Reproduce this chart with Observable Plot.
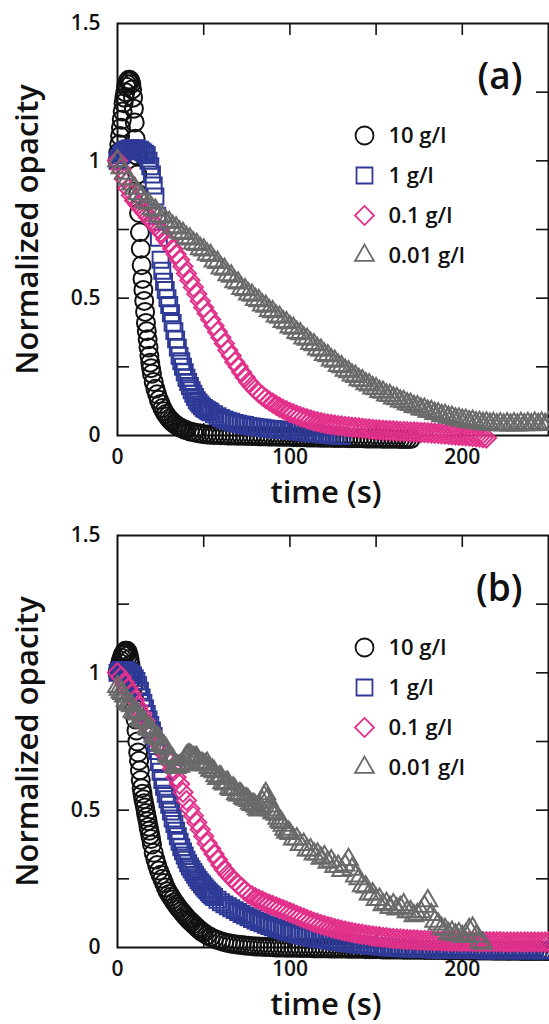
<!DOCTYPE html>
<html><head><meta charset="utf-8">
<script src="https://cdn.jsdelivr.net/npm/d3@7"></script>
<script src="https://cdn.jsdelivr.net/npm/@observablehq/plot@0.6"></script>
<style>
html,body{margin:0;padding:0;background:#fff;}
#chart{width:549px;}
#chart svg{display:block;}
</style></head><body><div id="chart"></div>
<script>
// ---------- labels & ticks ----------
const seriesLabels = ["10 g/l", "1 g/l", "0.1 g/l", "0.01 g/l"];
const panelTags = ["(a)", "(b)"];
const xTitle = "time (s)";
const yTitle = "Normalized opacity";
const xLabelTicks = [0, 100, 200];
const xMinorTicks = [50, 100, 150, 200];
const yLabelTicks = [0, 0.5, 1, 1.5];
const yMinorTicks = [0.25, 0.5, 0.75, 1, 1.25];

// ---------- panel (a) data: [time s, normalized opacity] ----------
const a10 = [[0,1.00],[0.5,1.03],[1,1.06],[1.5,1.09],[2,1.12],[2.5,1.15],[3,1.18],[3.5,1.21],[4,1.23],[4.5,1.25],[5,1.27],[5.5,1.28],[6,1.29],[6.5,1.295],[7,1.295],[7.5,1.29],[8,1.28],[8.5,1.26],[9,1.23],[9.5,1.19],[10,1.14],[10.5,1.08],[11,1.02],[11.5,0.95],[12,0.88],[12.5,0.81],[13,0.74],[13.5,0.68],[14,0.62],[14.5,0.57],[15,0.53],[15.5,0.49],[16,0.45],[16.5,0.41],[17,0.38],[17.5,0.35],[18,0.32],[18.5,0.29],[19,0.265],[19.5,0.245],[20,0.225],[21,0.195],[22,0.17],[23,0.15],[24,0.13],[25,0.115],[26,0.10],[27,0.088],[28,0.078],[29,0.069],[30,0.061],[31,0.054],[32,0.048],[33,0.043],[34,0.038],[35,0.034],[36,0.030],[37,0.027],[38,0.024],[39,0.021],[40,0.019],[42,0.015],[44,0.012],[46,0.009],[48,0.007],[50,0.005],[52,0.004],[54,0.003],[56,0.002],[58,0.002],[60,0.001],[62,0.001],[64,0.0],[66,0.0],[68,0.0],[70,-0.001],[72,-0.001],[74,-0.001],[76,-0.002],[78,-0.002],[80,-0.002],[82,-0.003],[84,-0.003],[86,-0.003],[88,-0.004],[90,-0.004],[92,-0.004],[94,-0.005],[96,-0.005],[98,-0.005],[100,-0.005],[102,-0.006],[104,-0.006],[106,-0.006],[108,-0.006],[110,-0.007],[112,-0.007],[114,-0.007],[116,-0.007],[118,-0.008],[120,-0.008],[122,-0.008],[124,-0.008],[126,-0.009],[128,-0.009],[130,-0.009],[132,-0.009],[134,-0.01],[136,-0.01],[138,-0.01],[140,-0.01],[142,-0.01],[144,-0.011],[146,-0.011],[148,-0.011],[150,-0.011],[152,-0.011],[154,-0.012],[156,-0.012],[158,-0.012],[160,-0.012],[162,-0.012],[164,-0.013],[166,-0.013],[168,-0.013],[170,-0.013]];
const a1 = [[0,1.00],[1,1.01],[2,1.02],[3,1.03],[4,1.035],[5,1.04],[6,1.04],[7,1.045],[8,1.045],[9,1.045],[10,1.045],[11,1.045],[12,1.04],[13,1.04],[14,1.035],[15,1.03],[16,1.025],[17,1.02],[18,1.00],[19,0.98],[20,0.95],[21,0.91],[22,0.87],[23,0.80],[24,0.72],[25,0.64],[26,0.60],[27,0.56],[28,0.53],[29,0.50],[30,0.475],[31,0.445],[32,0.41],[33,0.38],[34,0.35],[35,0.32],[36,0.29],[37,0.27],[38,0.25],[39,0.23],[40,0.21],[41,0.195],[42,0.18],[43,0.165],[44,0.152],[45,0.14],[46,0.128],[47,0.12],[48,0.113],[49,0.106],[50,0.10],[51,0.096],[52,0.092],[53,0.088],[54,0.085],[56,0.077],[58,0.07],[60,0.064],[62,0.058],[64,0.054],[66,0.05],[68,0.046],[70,0.043],[72,0.04],[74,0.038],[76,0.035],[78,0.033],[80,0.031],[82,0.029],[84,0.028],[86,0.026],[88,0.025],[90,0.024],[92,0.022],[94,0.021],[96,0.02],[98,0.019],[100,0.017],[102,0.016],[104,0.015],[106,0.014],[108,0.012],[110,0.011],[112,0.01],[114,0.008],[116,0.007],[118,0.006],[120,0.004],[122,0.003],[124,0.002],[126,0.0],[128,-0.001],[130,-0.002]];
const a01 = [[0,1.00],[2,0.97],[4,0.935],[6,0.90],[8,0.875],[10,0.855],[12,0.84],[14,0.825],[16,0.81],[18,0.795],[20,0.78],[22,0.765],[24,0.75],[26,0.735],[28,0.715],[30,0.70],[32,0.68],[34,0.66],[36,0.64],[38,0.615],[40,0.59],[42,0.565],[44,0.54],[46,0.515],[48,0.49],[50,0.466],[52,0.444],[54,0.422],[56,0.40],[58,0.378],[60,0.357],[62,0.335],[64,0.31],[66,0.29],[68,0.268],[70,0.25],[72,0.23],[74,0.212],[76,0.195],[78,0.18],[80,0.167],[82,0.155],[84,0.145],[86,0.135],[88,0.126],[90,0.118],[92,0.11],[94,0.103],[96,0.096],[98,0.09],[100,0.084],[102,0.079],[104,0.074],[106,0.069],[108,0.065],[110,0.061],[112,0.057],[114,0.053],[116,0.05],[118,0.047],[120,0.044],[122,0.042],[124,0.04],[126,0.038],[128,0.036],[130,0.035],[132,0.033],[134,0.032],[136,0.03],[138,0.029],[140,0.028],[142,0.026],[144,0.025],[146,0.024],[148,0.022],[150,0.021],[152,0.02],[154,0.019],[156,0.018],[158,0.017],[160,0.017],[162,0.016],[164,0.015],[166,0.015],[168,0.014],[170,0.013],[172,0.013],[174,0.012],[176,0.011],[178,0.011],[180,0.01],[182,0.009],[184,0.008],[186,0.007],[188,0.006],[190,0.005],[192,0.004],[194,0.003],[196,0.002],[198,0.001],[200,0.0],[202,-0.001],[204,-0.002],[206,-0.004],[208,-0.005],[210,-0.006],[212,-0.008],[214,-0.009]];
const a001 = [[0,1.00],[2,0.975],[4,0.955],[6,0.935],[8,0.915],[10,0.9],[12,0.88],[14,0.87],[16,0.85],[18,0.845],[20,0.825],[22,0.82],[24,0.80],[26,0.795],[28,0.78],[30,0.775],[32,0.76],[34,0.755],[36,0.74],[38,0.735],[40,0.72],[42,0.715],[44,0.70],[46,0.695],[48,0.68],[50,0.675],[52,0.66],[54,0.655],[56,0.635],[58,0.63],[60,0.61],[62,0.605],[64,0.585],[66,0.58],[68,0.56],[70,0.555],[72,0.535],[74,0.53],[76,0.515],[78,0.51],[80,0.495],[82,0.49],[84,0.475],[86,0.47],[88,0.455],[90,0.45],[92,0.435],[94,0.43],[96,0.415],[98,0.41],[100,0.395],[102,0.39],[104,0.375],[106,0.37],[108,0.355],[110,0.35],[112,0.335],[114,0.33],[116,0.315],[118,0.31],[120,0.295],[122,0.29],[124,0.275],[126,0.27],[128,0.255],[130,0.25],[132,0.237],[134,0.232],[136,0.22],[138,0.215],[140,0.203],[142,0.199],[144,0.188],[146,0.184],[148,0.173],[150,0.17],[152,0.16],[154,0.157],[156,0.147],[158,0.145],[160,0.136],[162,0.134],[164,0.125],[166,0.123],[168,0.115],[170,0.113],[172,0.105],[174,0.104],[176,0.096],[178,0.095],[180,0.088],[182,0.087],[184,0.08],[186,0.079],[188,0.072],[190,0.072],[192,0.066],[194,0.066],[196,0.06],[198,0.06],[200,0.055],[202,0.055],[204,0.05],[206,0.051],[208,0.046],[210,0.047],[212,0.043],[214,0.045],[216,0.041],[218,0.043],[220,0.039],[222,0.042],[224,0.038],[226,0.042],[228,0.038],[230,0.042],[232,0.038],[234,0.043],[236,0.039],[238,0.043],[240,0.039],[242,0.044],[244,0.04],[246,0.044],[248,0.04],[250,0.045]];

// ---------- panel (b) data ----------
const b10 = [[0,1.00],[0.5,1.01],[1,1.02],[1.5,1.035],[2,1.045],[2.5,1.055],[3,1.065],[3.5,1.07],[4,1.075],[4.5,1.08],[5,1.08],[5.5,1.08],[6,1.075],[6.5,1.065],[7,1.05],[7.5,1.03],[8,1.01],[8.5,0.98],[9,0.95],[9.5,0.91],[10,0.87],[10.5,0.83],[11,0.79],[11.5,0.75],[12,0.71],[12.5,0.68],[13,0.645],[13.5,0.61],[14,0.58],[14.5,0.56],[15,0.54],[15.5,0.525],[16,0.51],[16.5,0.49],[17,0.475],[17.5,0.46],[18,0.44],[18.5,0.425],[19,0.41],[19.5,0.395],[20,0.375],[21,0.345],[22,0.32],[23,0.30],[24,0.28],[25,0.265],[26,0.25],[27,0.235],[28,0.218],[29,0.205],[30,0.195],[31,0.185],[32,0.175],[33,0.165],[34,0.157],[35,0.148],[36,0.14],[37,0.132],[38,0.125],[39,0.117],[40,0.11],[41,0.103],[42,0.097],[43,0.091],[44,0.085],[45,0.079],[46,0.073],[47,0.068],[48,0.062],[49,0.057],[50,0.053],[52,0.045],[54,0.038],[56,0.032],[58,0.027],[60,0.023],[62,0.019],[64,0.016],[66,0.014],[68,0.012],[70,0.01],[72,0.009],[74,0.007],[76,0.006],[78,0.005],[80,0.004],[82,0.004],[84,0.003],[86,0.002],[88,0.002],[90,0.001],[92,0.0],[94,0.0],[96,0.0],[98,-0.001],[100,-0.001],[102,-0.001],[104,-0.001],[106,-0.002],[108,-0.002],[110,-0.002],[112,-0.002],[114,-0.003],[116,-0.003],[118,-0.003],[120,-0.003],[122,-0.003],[124,-0.004],[126,-0.004],[128,-0.004],[130,-0.004],[132,-0.004],[134,-0.005],[136,-0.005],[138,-0.005],[140,-0.005],[142,-0.005],[144,-0.006],[146,-0.006],[148,-0.006],[150,-0.006],[152,-0.006],[154,-0.007],[156,-0.007],[158,-0.007],[160,-0.007],[162,-0.007],[164,-0.007],[166,-0.008],[168,-0.008],[170,-0.008],[172,-0.008],[174,-0.008],[176,-0.008],[178,-0.009],[180,-0.009],[182,-0.009],[184,-0.009],[186,-0.009],[188,-0.009],[190,-0.01],[192,-0.01],[194,-0.01],[196,-0.01],[198,-0.01],[200,-0.01],[202,-0.01],[204,-0.011],[206,-0.011],[208,-0.011],[210,-0.011],[212,-0.011],[214,-0.011],[216,-0.011],[218,-0.012],[220,-0.012],[222,-0.012],[224,-0.012],[226,-0.012],[228,-0.012],[230,-0.012],[232,-0.012],[234,-0.013],[236,-0.013],[238,-0.013],[240,-0.013],[242,-0.013],[244,-0.013],[246,-0.013],[248,-0.013],[250,-0.013]];
const b1 = [[0,1.00],[1,1.005],[2,1.01],[3,1.01],[4,1.01],[5,1.01],[6,1.005],[7,1.0],[8,0.995],[9,0.99],[10,0.98],[11,0.97],[12,0.955],[13,0.935],[14,0.91],[15,0.89],[16,0.87],[17,0.85],[18,0.83],[19,0.81],[20,0.79],[21,0.77],[22,0.745],[23,0.715],[24,0.675],[25,0.64],[26,0.61],[27,0.585],[28,0.56],[29,0.54],[30,0.52],[31,0.495],[32,0.47],[33,0.45],[34,0.425],[35,0.405],[36,0.385],[37,0.365],[38,0.35],[39,0.335],[40,0.32],[41,0.307],[42,0.295],[43,0.285],[44,0.275],[45,0.265],[46,0.255],[47,0.246],[48,0.238],[49,0.23],[50,0.222],[51,0.215],[52,0.208],[53,0.201],[54,0.195],[55,0.189],[56,0.184],[58,0.174],[60,0.165],[62,0.157],[64,0.15],[66,0.143],[68,0.136],[70,0.129],[72,0.122],[74,0.116],[76,0.11],[78,0.104],[80,0.098],[82,0.093],[84,0.088],[86,0.083],[88,0.078],[90,0.074],[92,0.07],[94,0.066],[96,0.062],[98,0.058],[100,0.055],[102,0.052],[104,0.048],[106,0.045],[108,0.042],[110,0.039],[112,0.037],[114,0.034],[116,0.032],[118,0.03],[120,0.028],[122,0.026],[124,0.024],[126,0.022],[128,0.02],[130,0.019],[132,0.017],[134,0.015],[136,0.014],[138,0.013],[140,0.011],[142,0.01],[144,0.009],[146,0.007],[148,0.006],[150,0.005],[152,0.004],[154,0.003],[156,0.001],[158,0.0],[160,-0.001],[162,-0.002],[164,-0.003],[166,-0.003],[168,-0.004],[170,-0.004],[172,-0.005],[174,-0.005],[176,-0.006],[178,-0.006],[180,-0.006],[182,-0.007],[184,-0.007],[186,-0.007],[188,-0.007],[190,-0.008],[192,-0.008],[194,-0.008],[196,-0.008],[198,-0.008],[200,-0.009],[202,-0.009],[204,-0.009],[206,-0.009],[208,-0.009],[210,-0.009],[212,-0.01],[214,-0.01],[216,-0.01],[218,-0.01],[220,-0.01],[222,-0.01],[224,-0.01],[226,-0.01],[228,-0.01],[230,-0.01],[232,-0.01],[234,-0.01],[236,-0.01],[238,-0.01],[240,-0.01],[242,-0.01],[244,-0.01],[246,-0.01],[248,-0.01],[250,-0.01]];
const b01 = [[0,1.00],[2,0.985],[4,0.965],[6,0.945],[8,0.925],[10,0.90],[12,0.875],[14,0.85],[16,0.825],[18,0.80],[20,0.78],[22,0.76],[24,0.74],[26,0.72],[28,0.70],[30,0.675],[32,0.65],[34,0.62],[36,0.595],[38,0.565],[40,0.535],[42,0.505],[44,0.48],[46,0.455],[48,0.43],[50,0.405],[52,0.38],[54,0.36],[56,0.34],[58,0.32],[60,0.30],[62,0.283],[64,0.268],[66,0.254],[68,0.241],[70,0.229],[72,0.218],[74,0.206],[76,0.196],[78,0.188],[80,0.181],[82,0.175],[84,0.169],[86,0.163],[88,0.158],[90,0.153],[92,0.148],[94,0.143],[96,0.138],[98,0.133],[100,0.128],[102,0.123],[104,0.117],[106,0.112],[108,0.107],[110,0.102],[112,0.097],[114,0.092],[116,0.088],[118,0.084],[120,0.08],[122,0.076],[124,0.073],[126,0.069],[128,0.066],[130,0.063],[132,0.06],[134,0.057],[136,0.055],[138,0.052],[140,0.05],[142,0.048],[144,0.046],[146,0.044],[148,0.042],[150,0.04],[152,0.039],[154,0.037],[156,0.036],[158,0.034],[160,0.033],[162,0.032],[164,0.031],[166,0.03],[168,0.029],[170,0.028],[172,0.028],[174,0.027],[176,0.026],[178,0.026],[180,0.025],[182,0.025],[184,0.024],[186,0.024],[188,0.024],[190,0.023],[192,0.023],[194,0.023],[196,0.023],[198,0.022],[200,0.022],[202,0.022],[204,0.022],[206,0.022],[208,0.021],[210,0.021],[212,0.021],[214,0.021],[216,0.021],[218,0.021],[220,0.021],[222,0.021],[224,0.02],[226,0.02],[228,0.02],[230,0.02],[232,0.02],[234,0.02],[236,0.02],[238,0.02],[240,0.02],[242,0.02],[244,0.02],[246,0.02],[248,0.02],[250,0.02]];
const b001 = [[0,0.95],[1,0.94],[2,0.93],[3,0.925],[4,0.915],[5,0.9],[6,0.89],[7,0.885],[8,0.88],[9,0.86],[10,0.855],[11,0.855],[12,0.85],[13,0.83],[14,0.825],[15,0.825],[16,0.82],[17,0.80],[18,0.795],[19,0.795],[20,0.79],[21,0.77],[22,0.765],[23,0.765],[24,0.76],[25,0.74],[26,0.735],[27,0.73],[28,0.725],[29,0.70],[30,0.695],[31,0.69],[32,0.685],[33,0.66],[34,0.655],[35,0.66],[36,0.66],[37,0.665],[38,0.67],[39,0.685],[40,0.695],[41,0.70],[42,0.70],[43,0.695],[44,0.69],[45,0.69],[46,0.69],[47,0.675],[48,0.665],[49,0.67],[50,0.665],[51,0.665],[52,0.67],[53,0.655],[54,0.645],[55,0.645],[56,0.64],[57,0.625],[58,0.615],[59,0.62],[60,0.62],[61,0.60],[62,0.595],[63,0.60],[64,0.60],[65,0.58],[66,0.575],[67,0.58],[68,0.575],[69,0.56],[70,0.555],[71,0.56],[72,0.555],[73,0.545],[74,0.54],[75,0.54],[76,0.535],[77,0.525],[78,0.52],[79,0.52],[80,0.515],[81,0.505],[82,0.50],[83,0.51],[84,0.53],[85,0.55],[86,0.56],[87,0.54],[88,0.515],[89,0.50],[90,0.49],[91,0.49],[92,0.485],[93,0.47],[94,0.46],[95,0.455],[96,0.445],[97,0.43],[98,0.42],[99,0.42],[100,0.415],[102,0.395],[104,0.395],[106,0.375],[108,0.375],[110,0.355],[112,0.355],[114,0.34],[116,0.34],[118,0.325],[120,0.33],[122,0.31],[124,0.315],[126,0.295],[128,0.295],[130,0.28],[132,0.30],[134,0.32],[136,0.285],[138,0.26],[140,0.25],[142,0.225],[144,0.22],[146,0.195],[148,0.195],[150,0.175],[152,0.175],[154,0.155],[156,0.16],[158,0.145],[160,0.155],[162,0.14],[164,0.145],[166,0.155],[168,0.13],[170,0.13],[172,0.115],[174,0.12],[176,0.13],[178,0.15],[180,0.17],[182,0.12],[184,0.095],[186,0.085],[188,0.07],[190,0.065],[192,0.05],[194,0.055],[196,0.045],[198,0.05],[200,0.04],[202,0.045],[204,0.065],[206,0.07],[208,0.04],[210,0.02],[212,0.015]];

const panelData = [[a10, a1, a01, a001], [b10, b1, b01, b001]];

// ---------- layout & style ----------
const W = 549, H = 512, ML = 117, MR = 1, MT = 23, MB = 77;
const PW = W - ML - MR, PH = H - MT - MB, TICK = 12;
const FONT = "'Open Sans', 'DejaVu Sans', sans-serif";
const styles = [
  {symbol: "circle", r: 9, stroke: "#111111"},
  {symbol: "square", r: 9, stroke: "#2e3a96"},
  {symbol: "diamond2", r: 8.6, stroke: "#e2318a"},
  {symbol: "triangle", r: 7, stroke: "#6a6a6a"}
];

function panel(tag, series) {
  const marks = [
    Plot.frame({stroke: "#111", strokeWidth: 2}),
    Plot.ruleX(xMinorTicks, {x: d => d, insetTop: PH - TICK, stroke: "#111", strokeWidth: 1.6}),
    Plot.ruleX(xMinorTicks, {x: d => d, insetBottom: PH - TICK, stroke: "#111", strokeWidth: 1.6}),
    Plot.ruleY(yMinorTicks, {y: d => d, insetRight: PW - TICK, stroke: "#111", strokeWidth: 1.6}),
    Plot.ruleY(yMinorTicks, {y: d => d, insetLeft: PW - TICK, stroke: "#111", strokeWidth: 1.6})
  ];
  series.forEach((data, i) => {
    const s = styles[i];
    marks.push(Plot.dot(data, {x: d => d[0], y: d => d[1], symbol: s.symbol, r: s.r,
      stroke: s.stroke, fill: "none", strokeWidth: 2}));
  });
  marks.push(
    Plot.axisX({anchor: "bottom", ticks: xLabelTicks, tickSize: 0, tickPadding: 14,
      tickFormat: d => String(d), label: null, fontSize: 21, fontWeight: 600, fill: "#111"}),
    Plot.axisY({anchor: "left", ticks: yLabelTicks, tickSize: 0, tickPadding: 17,
      tickFormat: d => String(d), label: null, fontSize: 21, fontWeight: 600, fill: "#111"}),
    Plot.text([xTitle], {frameAnchor: "bottom", dx: -7, dy: 58, text: d => d,
      textAnchor: "middle", lineAnchor: "middle", fontSize: 31, fontWeight: 600, fill: "#111"}),
    Plot.text([yTitle], {frameAnchor: "left", dx: -89, rotate: -90, text: d => d,
      textAnchor: "middle", lineAnchor: "middle", fontSize: 31, fontWeight: 600, fill: "#111"}),
    Plot.text([tag], {frameAnchor: "top-right", dx: -26, dy: 54, text: d => d,
      textAnchor: "end", lineAnchor: "middle", fontSize: 37, fontWeight: 600, fill: "#111"})
  );
  seriesLabels.forEach((lab, i) => {
    const s = styles[i];
    marks.push(
      Plot.dot([lab], {frameAnchor: "top-left", dx: 247, dy: 112 + 40 * i, symbol: s.symbol,
        r: s.r, stroke: s.stroke, fill: "none", strokeWidth: 1.8}),
      Plot.text([lab], {frameAnchor: "top-left", dx: 271, dy: 112 + 40 * i, text: d => d,
        textAnchor: "start", lineAnchor: "middle", fontSize: 22, fontWeight: 600, fill: "#111"})
    );
  });
  return Plot.plot({
    width: W, height: H, marginLeft: ML, marginRight: MR, marginTop: MT, marginBottom: MB,
    x: {domain: [0, 250]},
    y: {domain: [0, 1.5]},
    style: {fontFamily: FONT, background: "#fff", overflow: "visible"},
    marks
  });
}

const root = document.getElementById("chart");
panelTags.forEach((tag, k) => root.appendChild(panel(tag, panelData[k])));
</script></body></html>
